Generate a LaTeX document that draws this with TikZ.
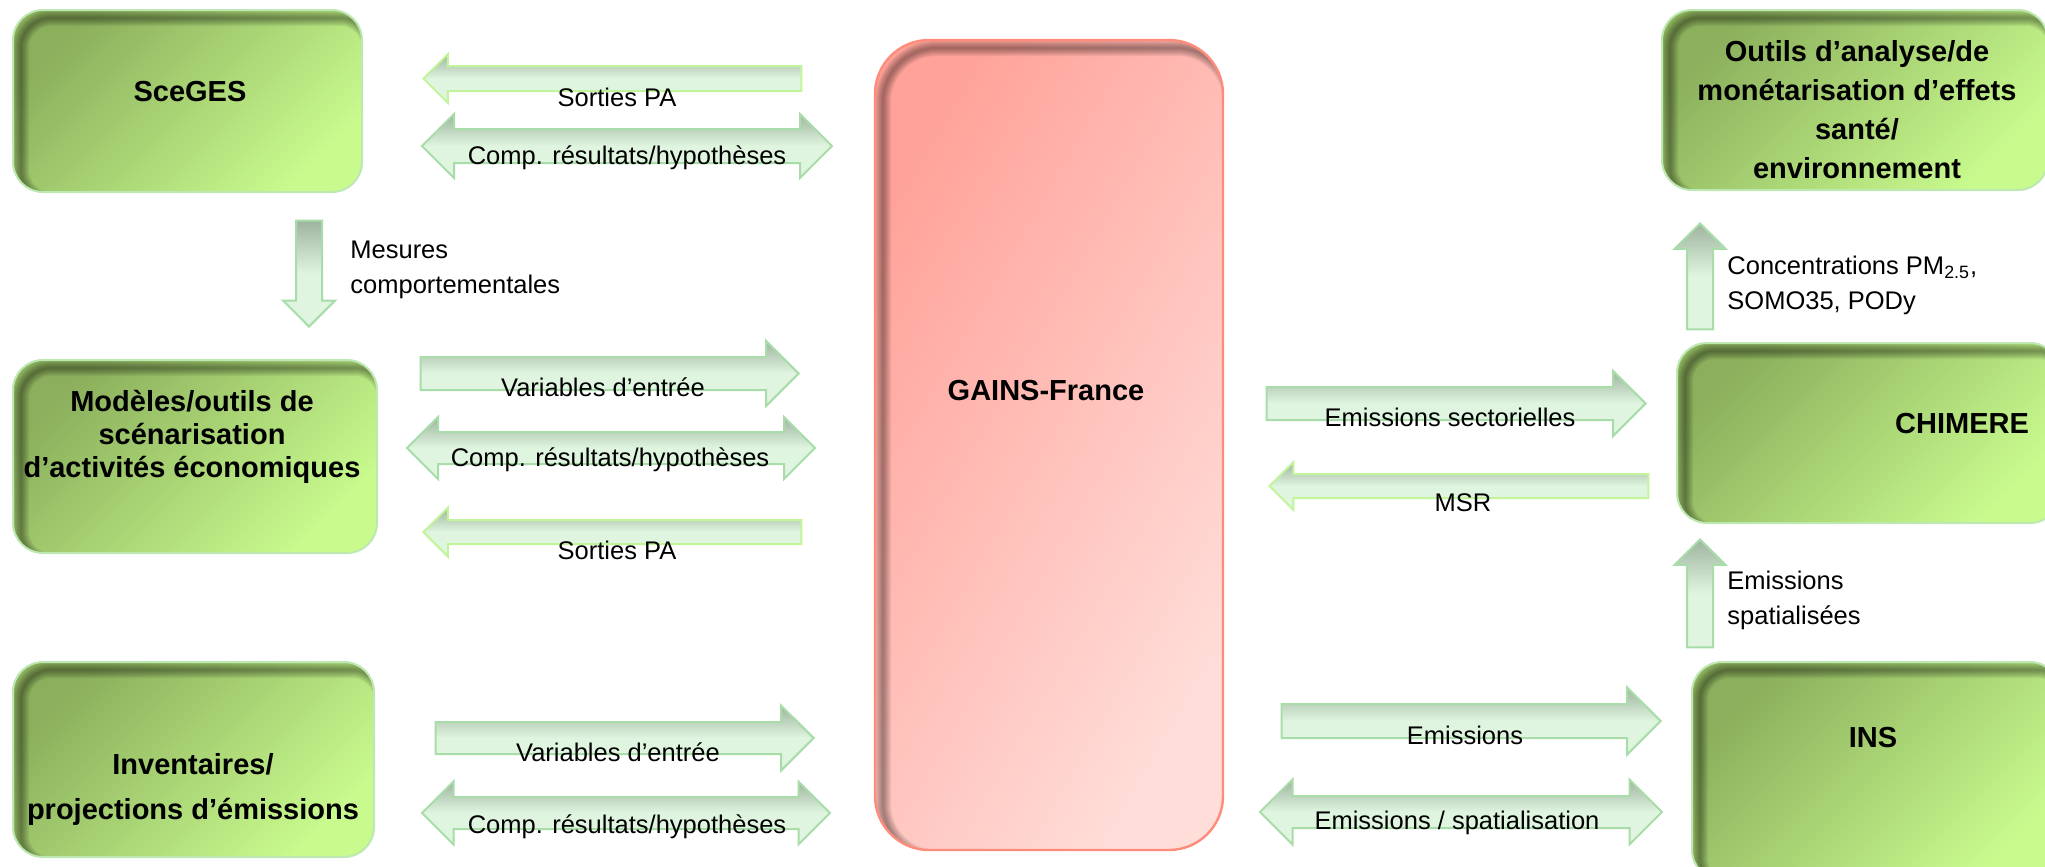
\documentclass[tikz,border=0pt]{standalone}
\usepackage{fontspec}
\setmainfont{Liberation Sans}
\usetikzlibrary{shapes.arrows}
\usetikzlibrary{positioning}

\definecolor{boxdark}{HTML}{8BAF5C}
\definecolor{boxlight}{HTML}{C8FA8E}
\definecolor{boxline}{HTML}{BDE8B2}
\definecolor{gainsdark}{HTML}{FFA39A}
\definecolor{gainslight}{HTML}{FFDDD9}
\definecolor{gainsline}{HTML}{FF8B7B}
\definecolor{arrowfill}{HTML}{E0F5E0}
\definecolor{arrowdark}{HTML}{9FB49F}
\definecolor{arrowline}{HTML}{A8DCA8}
\definecolor{arrowlime}{HTML}{C2F59A}

\tikzset{
  inshadow/.style={path picture={
    \foreach \w in {1,...,8}
      \draw[black, opacity=0.05, line width=\w pt, rounded corners=#1]
        ([shift={(4pt,-4pt)}]path picture bounding box.north west) rectangle
        ([shift={(4pt,-4pt)}]path picture bounding box.south east);
  }},
  gbox/.style={draw=boxline, line width=1pt, rounded corners=15pt,
    top color=boxdark, bottom color=boxlight, shading angle=45, inshadow=15pt},
  pbox/.style={draw=gainsline, line width=1.2pt, rounded corners=27pt,
    top color=gainsdark, bottom color=gainslight, shading angle=60, inshadow=27pt},
  title/.style={font=\bfseries\fontsize{14.5}{#1}\selectfont, align=center, inner sep=0pt},
  title/.default=17pt,
  lbl/.style={font=\fontsize{12.75}{17.5}\selectfont, inner sep=0pt},
  arrbase/.style={draw=arrowline, line width=1pt, minimum width=0pt,
    top color=arrowdark, bottom color=arrowfill, middle color=arrowfill},
  sarr/.style n args={3}{single arrow, arrbase, minimum height=#1, inner sep=#2,
    single arrow head extend=#3},
  darr/.style n args={3}{double arrow, arrbase, minimum height=#1, inner sep=#2,
    double arrow head extend=#3}
}

\begin{document}
\begin{tikzpicture}[x=0.5pt,y=-0.5pt]
\path[use as bounding box] (0,0) rectangle (2045,867);
\clip (0,0) rectangle (2045,867);

% boxes
\node[gbox, minimum width=174.5pt, minimum height=91pt] (sceges) at (187.5,101) {};
\node[gbox, minimum width=182pt, minimum height=96.5pt] (modeles) at (195,456.5) {};
\node[gbox, minimum width=180.5pt, minimum height=97.5pt] (inv) at (193.5,759.5) {};
\node[pbox, minimum width=174pt, minimum height=405pt] (gains) at (1049,445) {};
\node[gbox, minimum width=193pt, minimum height=90pt] (outils) at (1855,100) {};
\node[gbox, minimum width=191.5pt, minimum height=90pt] (chimere) at (1868.5,433) {};
\node[gbox, minimum width=184pt, minimum height=109pt] (ins) at (1876,771) {};

\node[title] (sceges-t) at (190,92) {SceGES};
\node[title=16.5pt] (modeles-t) at (192,437) {Modèles/outils de\\scénarisation\\d’activités économiques};
\node[title=22.5pt] (inv-t) at (193,789) {Inventaires/\\projections d’émissions};
\node[title] (gains-t) at (1046,391) {GAINS-France};
\node[title=19.5pt] (outils-t) at (1857,110) {Outils d’analyse/de\\monétarisation d’effets\\santé/\\environnement};
\node[title] (chimere-t) at (1962,424) {CHIMERE};
\node[title] (ins-t) at (1873,738) {INS};

% arrows left
\node[sarr={189pt}{5.75pt}{6pt}, shape border rotate=180, anchor=tip, draw=arrowlime] (sp1) at (422,78.5) {};
\node[darr={205pt}{8pt}{7.5pt}] (cr1) at (627,146) {};
\node[sarr={189pt}{7.75pt}{8pt}, anchor=tip] (ve1) at (800,373.5) {};
\node[darr={204pt}{7.5pt}{7.5pt}] (cr2) at (611,448) {};
\node[sarr={189pt}{5.5pt}{6.25pt}, shape border rotate=180, anchor=tip, draw=arrowlime] (sp2) at (422,532) {};
\node[sarr={189pt}{7.5pt}{8.25pt}, anchor=tip] (ve2) at (815,738) {};
\node[darr={204pt}{7.5pt}{7.75pt}] (cr3) at (626,813) {};
\node[sarr={53pt}{6pt}{6.5pt}, shape border rotate=180, rotate=90, anchor=tip] (mc) at (309,328) {};

% arrows right
\node[sarr={189.5pt}{7.75pt}{8pt}, anchor=tip] (es) at (1647,403.5) {};
\node[sarr={189.5pt}{5.5pt}{6pt}, shape border rotate=180, anchor=tip, draw=arrowlime] (msr) at (1268,486) {};
\node[sarr={189.5pt}{8pt}{8.25pt}, anchor=tip] (em) at (1662,721) {};
\node[darr={201pt}{7.5pt}{8.25pt}] (esp) at (1461,812) {};
\node[sarr={53pt}{6pt}{6.25pt}, rotate=90, anchor=tip] (cc) at (1700,222) {};
\node[sarr={54pt}{6pt}{6.25pt}, rotate=90, anchor=tip] (esu) at (1700,538) {};

% labels
\node[lbl] (sp1-l) at (617,97) {Sorties PA};
\node[lbl] (cr1-l) at (627,158) {Comp. résultats/hypothèses};
\node[lbl] (ve1-l) at (603,387) {Variables d’entrée};
\node[lbl] (cr2-l) at (610,460) {Comp. résultats/hypothèses};
\node[lbl] (sp2-l) at (617,550) {Sorties PA};
\node[lbl] (ve2-l) at (618,752) {Variables d’entrée};
\node[lbl] (cr3-l) at (627,827) {Comp. résultats/hypothèses};
\node[lbl, anchor=west, align=left] (mc-l) at (350,270) {Mesures\\comportementales};
\node[lbl] (es-l) at (1450,417) {Emissions sectorielles};
\node[lbl] (msr-l) at (1463,503) {MSR};
\node[lbl] (em-l) at (1465,735) {Emissions};
\node[lbl] (esp-l) at (1457,823) {Emissions / spatialisation};
\node[lbl, anchor=west, align=left] (cc-l) at (1727,285) {Concentrations PM\textsubscript{2.5},\\SOMO35, PODy};
\node[lbl, anchor=west, align=left] (esu-l) at (1727,600.5) {Emissions\\spatialisées};
\end{tikzpicture}
\end{document}
